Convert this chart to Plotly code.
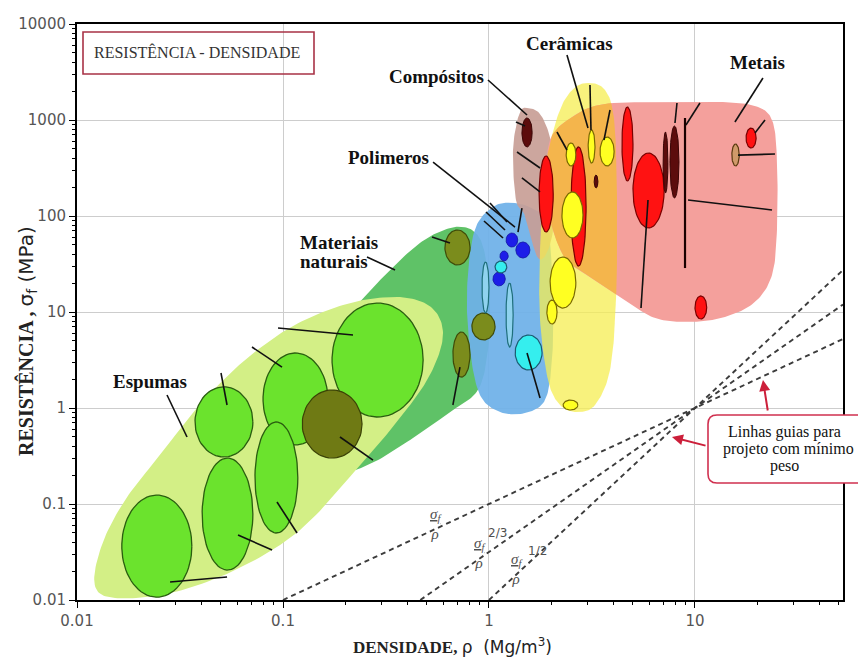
import numpy as np
import plotly.graph_objects as go

# ---------------------------------------------------------------
# Material-family envelopes: density (Mg/m^3) and strength (MPa)
# ---------------------------------------------------------------
FOAM_ENV_RHO = [0.0122, 0.0132, 0.0171, 0.0253, 0.0395, 0.0654, 0.114, 0.211, 0.370, 0.529,
                0.598, 0.517, 0.370, 0.237, 0.121, 0.0585, 0.0283, 0.0153]
FOAM_ENV_SIG = [0.0143, 0.0374, 0.110, 0.324, 1.08, 3.16, 7.32, 12.4, 14.3, 11.0,
                5.75, 2.21, 0.787, 0.255, 0.0536, 0.0205, 0.0118, 0.0105]

NATURAL_ENV_RHO = [0.211, 0.313, 0.462, 0.647, 0.827, 0.946, 1.011, 0.989, 0.884, 0.647,
                   0.414, 0.270, 0.189, 0.151, 0.160]
NATURAL_ENV_SIG = [9.30, 24.3, 52.3, 75.0, 71.5, 44.3, 13.3, 4.02, 1.54, 0.909,
                   0.464, 0.267, 0.226, 0.590, 3.16]

POLYMER_ENV_RHO = [1.337, 1.672, 1.934, 2.045, 2.022, 1.870, 1.496, 1.13, 0.904, 0.809,
                   0.782, 0.850, 1.05]
POLYMER_ENV_SIG = [136.6, 115.5, 80, 13.3, 3.16, 1.21, 0.887, 0.909, 1.366, 4.02,
                   16.9, 70, 125]

COMPOSITE_ENV_RHO = [1.53, 1.80, 2.045, 2.114, 1.977, 1.729, 1.496, 1.352, 1.308, 1.40]
COMPOSITE_ENV_SIG = [1334, 1100, 487, 146.8, 49.9, 36.5, 100, 146.8, 487, 1150]

CERAMIC_ENV_RHO = [3.024, 3.657, 4.05, 4.182, 4.136, 3.868, 3.27, 2.674, 2.212, 1.934,
                   1.769, 1.769, 1.870, 2.163, 2.529]
CERAMIC_ENV_SIG = [2427, 2054, 1000, 146.8, 13.3, 2.49, 1.075, 0.909, 1.075, 1.957,
                   8.25, 44.3, 301, 1127, 2054]

METAL_ENV_RHO = [1.977, 2.616, 3.657, 6.76, 13.22, 19.55, 23.65, 25.0, 25.0, 23.65,
                 19.55, 13.98, 9.46, 6.39, 4.573, 3.27, 2.339, 1.956, 1.91]
METAL_ENV_SIG = [619, 1127, 1468, 1540, 1540, 1400, 1000, 383, 71.5, 24.3,
                 12.7, 8.87, 7.87, 8.66, 13.3, 21.5, 36.5, 100, 187]

# ---------------------------------------------------------------
# Individual material bubbles: property ranges
# ---------------------------------------------------------------
BUBBLE_KIND = ["foam", "foam", "foam", "foam", "foam", "foam", "olive",
               "nat", "nat", "nat",
               "thin", "thin", "cyan", "blue", "blue", "blue", "blue", "cyan",
               "brown", "red",
               "red", "yellow", "yellow", "yellow", "yellow", "yellow", "yellow", "yellow", "brown",
               "red", "red", "brown", "brown", "red", "tan", "red"]
BUBBLE_RHO_LO = [0.0165, 0.0374, 0.0405, 0.080, 0.0731, 0.173, 0.124,
                 0.611, 0.826, 0.668,
                 0.925, 1.21, 1.34, 1.21, 1.13, 1.35, 1.045, 1.07,
                 1.445, 1.75,
                 2.50, 3.03, 3.46, 2.37, 2.26, 1.98, 1.91, 2.29, 3.24,
                 4.42, 5.00, 7.56, 7.00, 17.7, 15.1, 10.0]
BUBBLE_RHO_HI = [0.0361, 0.0714, 0.0714, 0.165, 0.118, 0.479, 0.242,
                 0.809, 1.07, 0.809,
                 1.00, 1.31, 1.81, 1.38, 1.24, 1.58, 1.20, 1.22,
                 1.62, 2.05,
                 2.96, 3.27, 4.05, 2.64, 2.86, 2.64, 2.14, 2.70, 3.38,
                 5.00, 7.08, 8.36, 7.39, 19.8, 16.4, 11.4]
BUBBLE_SIG_LO = [0.0107, 0.309, 0.0205, 0.412, 0.0499, 0.806, 0.301,
                 30.9, 5.11, 2.10,
                 9.77, 4.32, 2.49, 47.5, 34.0, 36.5, 18.7, 25.5,
                 524, 68.1,
                 30.1, 356, 332, 332, 59.0, 11.0, 7.50, 0.953, 196,
                 232, 75.0, 154, 174, 511, 332, 8.45]
BUBBLE_SIG_HI = [0.124, 1.66, 0.301, 3.74, 0.715, 12.4, 1.54,
                 71.5, 9.77, 6.19,
                 33.2, 20.0, 5.76, 66.5, 43.2, 53.6, 26.1, 34.0,
                 1050, 422,
                 524, 787, 665, 576, 178, 37.4, 13.3, 1.21, 267,
                 1365, 453, 866, 750, 825, 562, 14.7]

# Leader / indicator lines: (start, end) pairs
LEADER_RHO = [(0.0283, 0.0535), (0.0500, 0.0535), (0.0605, 0.0885), (0.0707, 0.0989),
              (0.0935, 0.117), (0.0946, 0.2187), (0.189, 0.2735), (0.02735, 0.0342),
              (0.2557, 0.3498), (0.529, 0.6465), (0.723, 0.668), (0.535, 1.337),
              (1.53, 1.769), (0.989, 1.53), (1.368, 1.769), (1.445, 1.769), (1.352, 1.496),
              (2.391, 3.024), (3.092, 3.127), (2.138, 2.391), (3.868, 3.616),
              (5.914, 5.469), (9.04, 10.57), (9.25, 23.65), (8.177, 7.996),
              (19.55, 21.87), (16.17, 24.45), (21.38, 15.63),
              (1.011, 1.223), (0.967, 1.196), (0.9456, 1.17), (1.445, 1.383)]
LEADER_SIG = [(0.0154, 0.01738), (2.315, 1.075), (0.0475, 0.0332), (4.32, 2.67),
              (0.105, 0.0499), (6.81, 5.75), (0.499, 0.287), (1.366, 0.499),
              (37.4, 27.4), (60.4, 52.3), (2.67, 1.075), (365, 76.8),
              (3.74, 1.27), (2610, 1127), (464, 316), (249, 178), (953, 866),
              (4755, 825), (2318, 787), (750, 487), (1271, 619),
              (146.8, 11.0), (887, 1503), (146.8, 115.5), (1503, 930),
              (733, 1000), (431, 442), (2738, 953),
              (136.6, 86.6), (110, 71.5), (88.7, 59.0), (121, 68.1)]

# Long vertical indicator inside the metals field
METAL_BAR_RHO = [8.944, 8.944]
METAL_BAR_SIG = [1050, 28.7]

# Minimum-weight design guide lines: sigma^(1/n)/rho = const, all through (10, 1)
GUIDE_EXPONENT = [1.0, 1.5, 2.0]
GUIDE_POINT = (10.0, 1.0)

X_TICKS = [0.01, 0.1, 1, 10]
X_TICKTEXT = ["0.01", "0.1", "1", "10"]
Y_TICKS = [0.01, 0.1, 1, 10, 100, 1000, 10000]
Y_TICKTEXT = ["0.01", "0.1", "1", "10", "100", "1000", "10000"]
X_MAX = 52.3

# ---------------------------------------------------------------
STYLE = {
    "foam": ("#6be32d", "#2a5e10", 1.3),
    "olive": ("#6f7a14", "#3b4206", 1.2),
    "nat": ("#7b8c1c", "#3f4a08", 1.2),
    "thin": ("#8fd2ee", "#1f6f7c", 1.2),
    "cyan": ("#35eeee", "#1b5c72", 1.2),
    "blue": ("#1d1de8", "#1010a0", 0.8),
    "brown": ("#5c0c0c", "#3a0505", 1.0),
    "red": ("#ff1212", "#7a0000", 1.2),
    "yellow": ("#ffff22", "#7a6a00", 1.2),
    "tan": ("#d09a6a", "#5a3a10", 1.2),
}


def smooth_closed(rho, sig, n=16):
    """Closed Catmull-Rom curve through the vertices, in log-log space."""
    P = np.column_stack([np.log10(rho), np.log10(sig)])
    N = len(P)
    t = np.linspace(0, 1, n, endpoint=False)[:, None]
    segs = []
    for i in range(N):
        p0, p1, p2, p3 = P[i - 1], P[i], P[(i + 1) % N], P[(i + 2) % N]
        segs.append(0.5 * (2 * p1 + (p2 - p0) * t
                           + (2 * p0 - 5 * p1 + 4 * p2 - p3) * t ** 2
                           + (3 * p1 - p0 - 3 * p2 + p3) * t ** 3))
    return np.vstack(segs)


def ellipse(rlo, rhi, slo, shi, n=72):
    a, b = np.log10([rlo, rhi]), np.log10([slo, shi])
    cx, cy = a.mean(), b.mean()
    hx, hy = (a[1] - a[0]) / 2, (b[1] - b[0]) / 2
    th = np.linspace(0, 2 * np.pi, n)
    return np.column_stack([cx + hx * np.cos(th), cy + hy * np.sin(th)])


def clip_polygon(subject, clip):
    """Sutherland-Hodgman clipping of subject by a convex clip polygon."""
    area = 0.5 * np.sum(clip[:, 0] * np.roll(clip[:, 1], -1) - np.roll(clip[:, 0], -1) * clip[:, 1])
    sgn = 1.0 if area > 0 else -1.0

    def inside(p, a, b):
        return sgn * ((b[0] - a[0]) * (p[1] - a[1]) - (b[1] - a[1]) * (p[0] - a[0])) >= 0

    def cross_pt(p, q, a, b):
        r, s = q - p, b - a
        den = r[0] * s[1] - r[1] * s[0]
        if abs(den) < 1e-12:
            return q
        u = ((a[0] - p[0]) * s[1] - (a[1] - p[1]) * s[0]) / den
        return p + u * r

    out = [np.array(p) for p in subject]
    for i in range(len(clip)):
        a, b = clip[i], clip[(i + 1) % len(clip)]
        src, out = out, []
        if not src:
            break
        s = src[-1]
        for e in src:
            if inside(e, a, b):
                if not inside(s, a, b):
                    out.append(cross_pt(s, e, a, b))
                out.append(e)
            elif inside(s, a, b):
                out.append(cross_pt(s, e, a, b))
            s = e
    return np.array(out)


fig = go.Figure()


def add_fill(Q, fill, line_color="rgba(0,0,0,0)", width=0):
    Q = np.vstack([Q, Q[:1]])
    fig.add_trace(go.Scatter(x=10 ** Q[:, 0], y=10 ** Q[:, 1], mode="lines", fill="toself",
                             fillcolor=fill, line=dict(color=line_color, width=width),
                             hoverinfo="skip", showlegend=False))


# Family envelopes
nat_q = smooth_closed(NATURAL_ENV_RHO, NATURAL_ENV_SIG)
foam_q = smooth_closed(FOAM_ENV_RHO, FOAM_ENV_SIG)
poly_q = smooth_closed(POLYMER_ENV_RHO, POLYMER_ENV_SIG)
comp_q = smooth_closed(COMPOSITE_ENV_RHO, COMPOSITE_ENV_SIG)
cer_q = smooth_closed(CERAMIC_ENV_RHO, CERAMIC_ENV_SIG)
met_q = smooth_closed(METAL_ENV_RHO, METAL_ENV_SIG)

add_fill(nat_q, "#5fc267")
add_fill(foam_q, "#d3ef86")
add_fill(poly_q, "rgba(110,176,232,0.93)")
add_fill(comp_q, "rgba(200,158,150,0.92)")
add_fill(cer_q, "rgba(246,238,82,0.75)")
add_fill(met_q, "#f4a09c")
add_fill(clip_polygon(met_q, cer_q), "#f4b54c")

# Bubbles
for kind, r0, r1, s0, s1 in zip(BUBBLE_KIND, BUBBLE_RHO_LO, BUBBLE_RHO_HI, BUBBLE_SIG_LO, BUBBLE_SIG_HI):
    fc, lc, lw = STYLE[kind]
    add_fill(ellipse(r0, r1, s0, s1), fc, lc, lw)

# Leader lines
lx, ly = [], []
for (r0, r1), (s0, s1) in zip(LEADER_RHO, LEADER_SIG):
    lx += [r0, r1, None]
    ly += [s0, s1, None]
fig.add_trace(go.Scatter(x=lx, y=ly, mode="lines", line=dict(color="#111111", width=1.6),
                         hoverinfo="skip", showlegend=False))
fig.add_trace(go.Scatter(x=METAL_BAR_RHO, y=METAL_BAR_SIG, mode="lines",
                         line=dict(color="#1a0000", width=2.2), hoverinfo="skip", showlegend=False))

# Guide lines for minimum-weight design
r_ref, s_ref = GUIDE_POINT
for n in GUIDE_EXPONENT:
    r_start = r_ref * (0.01 / s_ref) ** (1.0 / n)
    rr = np.array([r_start, X_MAX])
    ss = s_ref * (rr / r_ref) ** n
    fig.add_trace(go.Scatter(x=rr, y=ss, mode="lines",
                             line=dict(color="#3c3c3c", width=1.9, dash="5px,4px"),
                             hoverinfo="skip", showlegend=False))

# ---------------------------------------------------------------
axis_common = dict(
    type="log", showline=True, linewidth=2, linecolor="black", mirror=True,
    ticks="outside", ticklen=6, tickwidth=1.4, tickcolor="black",
    showgrid=True, gridcolor="#cdcdcd", gridwidth=1.2, zeroline=False,
    tickfont=dict(family="DejaVu Sans", size=15, color="#555555"),
)
minor_vals = lambda lo, hi: [m * 10.0 ** e for e in range(lo, hi) for m in range(2, 10)]
fig.update_xaxes(range=[-2, np.log10(X_MAX)], tickmode="array", tickvals=X_TICKS, ticktext=X_TICKTEXT,
                 minor=dict(tickmode="array", tickvals=minor_vals(-2, 2), ticks="outside", ticklen=3,
                            tickcolor="black", showgrid=False),
                 **axis_common)
fig.update_yaxes(range=[-2, 4], tickmode="array", tickvals=Y_TICKS, ticktext=Y_TICKTEXT,
                 minor=dict(tickmode="array", tickvals=minor_vals(-2, 4), ticks="outside", ticklen=3,
                            tickcolor="black", showgrid=False),
                 **axis_common)

PX_W, PX_H = 766.0, 576.0
serif = "Liberation Serif"
ann = []


def label(text, rho, sig, size=19, anchor="center", bold=True):
    ann.append(dict(x=np.log10(rho), y=np.log10(sig), xref="x", yref="y",
                    text=f"<b>{text}</b>" if bold else text, showarrow=False,
                    xanchor=anchor, yanchor="middle", font=dict(family=serif, size=size, color="#111111")))


label("Espumas", 0.0226, 1.91)
label("Materiais", 0.1183, 53.6, anchor="left")
label("naturais", 0.1183, 33.2, anchor="left")
label("Polimeros", 0.3234, 402)
label("Compósitos", 0.559, 2806)
label("Cerâmicas", 2.47, 6339)
label("Metais", 20.0, 3926)

# Guide line labels
gfont = dict(family=serif, size=15, color="#505050")
frac = "<u><i>σ<sub>f</sub></i></u><br><i>ρ</i>"
for r, s in [(0.553, 0.0619), (0.904, 0.0309), (1.368, 0.0210)]:
    ann.append(dict(x=np.log10(r), y=np.log10(s), xref="x", yref="y", text=frac, showarrow=False,
                    xanchor="center", yanchor="middle", font=gfont))
for txt, r, s in [("2/3", 1.094, 0.0499), ("1/2", 1.729, 0.0324)]:
    ann.append(dict(x=np.log10(r), y=np.log10(s), xref="x", yref="y", text=txt, showarrow=False,
                    xanchor="center", yanchor="middle",
                    font=dict(family="DejaVu Sans", size=12, color="#505050")))

# Red arrows from the guide-line note
for (hr, hs), (tr, ts) in [((7.73, 0.499), (11.44, 0.402)), ((21.38, 1.957), (22.61, 0.909))]:
    ann.append(dict(x=np.log10(hr), y=np.log10(hs), ax=np.log10(tr), ay=np.log10(ts),
                    xref="x", yref="y", axref="x", ayref="y", text="", showarrow=True,
                    arrowhead=2, arrowsize=1.1, arrowwidth=2, arrowcolor="#cc1f3a"))


def px2paper(px, py):
    return (px - 77) / PX_W, (600 - py) / PX_H


def paper_text(txt, px, py, font, xanchor="center", angle=0):
    x, y = px2paper(px, py)
    ann.append(dict(x=x, y=y, xref="paper", yref="paper", text=txt, showarrow=False,
                    xanchor=xanchor, yanchor="middle", textangle=angle, font=font))


# Note box text
note_font = dict(family=serif, size=16, color="#111111")
paper_text("Linhas guias para", 784, 432, note_font)
paper_text("projeto com mínimo", 788, 449, note_font)
paper_text("peso", 784, 466, note_font)

# Chart title box text
paper_text("RESISTÊNCIA - DENSIDADE", 92, 52, dict(family=serif, size=16, color="#333333"), xanchor="left")

# Axis titles
paper_text("<b>DENSIDADE,</b> <span style='font-family:DejaVu Sans'>ρ  (Mg/m<sup>3</sup>)</span>",
           452, 646, dict(family=serif, size=17, color="#222222"))
paper_text("<b>RESISTÊNCIA ,</b> <span style='font-family:DejaVu Sans'>σ<sub>f</sub> (MPa)</span>",
           27, 341, dict(family=serif, size=20, color="#222222"), angle=-90)

# Boxes
bx0, by0 = px2paper(83, 74)
bx1, by1 = px2paper(314, 32)
shapes = [dict(type="rect", xref="paper", yref="paper", x0=bx0, y0=by0, x1=bx1, y1=by1,
               line=dict(color="#a83246", width=1.6), fillcolor="rgba(255,255,255,0)", layer="above")]
nx0, ny0 = px2paper(708, 483)
nx1, ny1 = px2paper(875, 415)
rx, ry = 9 / PX_W, 9 / PX_H
path = (f"M {nx0 + rx},{ny1} L {nx1 - rx},{ny1} Q {nx1},{ny1} {nx1},{ny1 - ry} L {nx1},{ny0 + ry} "
        f"Q {nx1},{ny0} {nx1 - rx},{ny0} L {nx0 + rx},{ny0} Q {nx0},{ny0} {nx0},{ny0 + ry} "
        f"L {nx0},{ny1 - ry} Q {nx0},{ny1} {nx0 + rx},{ny1} Z")
shapes.append(dict(type="path", path=path, xref="paper", yref="paper",
                   line=dict(color="#d0304f", width=1.6), fillcolor="white", layer="above"))

fig.update_layout(width=858, height=662, margin=dict(l=77, r=15, t=24, b=62),
                  plot_bgcolor="white", paper_bgcolor="white", showlegend=False,
                  annotations=ann, shapes=shapes)

fig.write_html("out.html")
